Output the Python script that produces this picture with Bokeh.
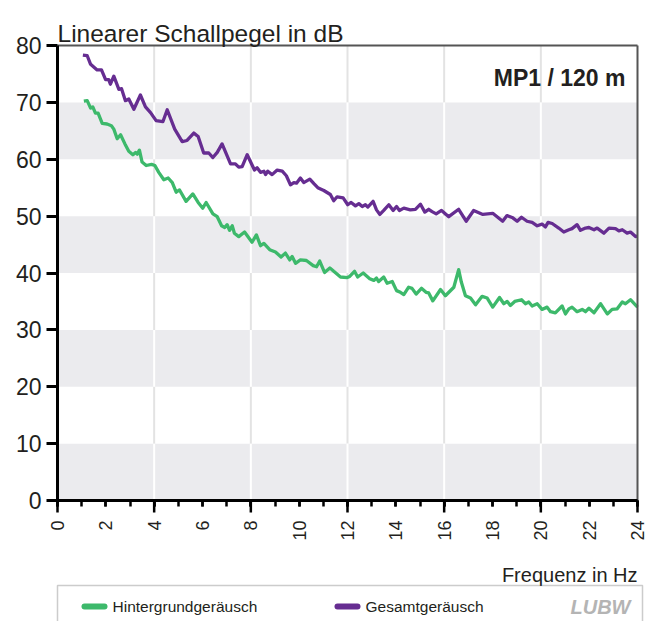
import math
from bokeh.plotting import figure
from bokeh.models import Range1d, FixedTicker, BoxAnnotation, Label, Arrow
from bokeh.embed import file_html
from bokeh.resources import INLINE

# ---------------- data ----------------
hg_freq = [1.09, 1.23, 1.37, 1.46, 1.57, 1.68, 1.85, 2.05, 2.23, 2.33, 2.47, 2.61, 2.79, 2.95,
           3.12, 3.23, 3.30, 3.39, 3.50, 3.67, 3.89, 4.03, 4.19, 4.40, 4.58, 4.75, 4.91, 5.05,
           5.32, 5.60, 5.82, 6.01, 6.15, 6.43, 6.61, 6.79, 6.92, 7.02, 7.12, 7.23, 7.32, 7.50,
           7.74, 8.05, 8.23, 8.40, 8.54, 8.78, 9.02, 9.25, 9.43, 9.61, 9.71, 9.85, 10.05, 10.30,
           10.58, 10.72, 10.85, 11.05, 11.27, 11.43, 11.71, 11.99, 12.09, 12.29, 12.42, 12.65,
           12.92, 13.09, 13.20, 13.29, 13.50, 13.64, 13.85, 14.03, 14.19, 14.33, 14.53, 14.67,
           14.84, 15.06, 15.25, 15.36, 15.53, 15.85, 16.05, 16.40, 16.60, 16.71, 16.88, 17.09,
           17.30, 17.57, 17.78, 18.01, 18.29, 18.47, 18.61, 18.74, 18.92, 19.20, 19.36, 19.50,
           19.64, 19.85, 20.05, 20.26, 20.40, 20.60, 20.88, 21.02, 21.16, 21.29, 21.50, 21.71,
           21.85, 21.99, 22.20, 22.47, 22.75, 22.95, 23.16, 23.37, 23.50, 23.71, 24.00]
hg_db = [70.2, 70.3, 69.0, 69.2, 68.1, 68.1, 66.3, 66.2, 65.9, 65.3, 63.6, 64.3, 62.7, 61.4,
         60.8, 61.2, 60.9, 61.6, 59.5, 58.9, 59.1, 58.9, 57.7, 56.4, 56.7, 55.9, 54.2, 54.6,
         52.6, 53.9, 52.4, 51.4, 52.4, 50.4, 49.9, 48.3, 48.0, 48.5, 47.5, 48.3, 47.0, 46.4,
         47.2, 45.4, 46.7, 44.8, 45.2, 44.1, 43.7, 42.8, 43.5, 42.3, 42.9, 41.7, 42.3, 42.2,
         41.3, 41.1, 42.1, 40.1, 40.9, 40.3, 39.3, 39.2, 39.4, 40.3, 39.3, 40.0,
         39.0, 38.7, 39.1, 38.5, 39.3, 38.2, 38.5, 36.9, 36.6, 36.2, 37.5, 37.3,
         36.3, 37.3, 36.6, 36.5, 35.1, 37.1, 36.0, 37.5, 40.6, 38.4, 36.0, 35.6,
         34.4, 35.9, 35.6, 34.0, 35.7, 34.6, 35.0, 34.3, 35.0, 35.3, 34.6, 34.9,
         34.2, 34.6, 33.6, 34.0, 33.2, 33.0, 34.2, 32.8, 33.7, 34.0, 33.2, 33.6,
         33.2, 33.8, 33.0, 34.6, 32.8, 33.6, 33.7, 34.9, 34.6, 35.3, 34.0]

gs_freq = [1.05, 1.23, 1.37, 1.64, 1.82, 1.99, 2.12, 2.19, 2.33, 2.54, 2.65, 2.81, 2.95, 3.16,
           3.43, 3.64, 3.85, 4.08, 4.36, 4.54, 4.85, 5.16, 5.36, 5.64, 5.82, 6.05, 6.26, 6.43,
           6.61, 6.81, 7.16, 7.36, 7.50, 7.64, 7.85, 8.15, 8.26, 8.40, 8.54, 8.61, 8.70, 8.88,
           9.09, 9.30, 9.47, 9.64, 9.78, 9.89, 10.05, 10.19, 10.44, 10.61, 10.77, 11.02, 11.29,
           11.43, 11.57, 11.82, 12.01, 12.15, 12.33, 12.47, 12.61, 12.74, 12.84, 13.06, 13.20,
           13.34, 13.50, 13.71, 13.89, 14.03, 14.15, 14.33, 14.60, 14.81, 15.02, 15.20, 15.36,
           15.50, 15.67, 15.89, 16.19, 16.60, 16.91, 17.22, 17.60, 18.01, 18.42, 18.60, 18.84,
           19.02, 19.20, 19.43, 19.64, 19.85, 20.05, 20.19, 20.30, 20.47, 20.74, 20.95, 21.16,
           21.29, 21.50, 21.64, 21.85, 21.99, 22.20, 22.33, 22.61, 22.82, 23.09, 23.23, 23.37,
           23.57, 23.71, 23.92, 24.00]
gs_db = [78.3, 78.2, 76.7, 75.7, 75.7, 74.0, 74.0, 73.2, 74.6, 72.3, 72.4, 70.3, 70.6, 68.8,
         71.3, 69.2, 68.2, 66.8, 66.6, 68.7, 65.3, 63.1, 63.3, 64.6, 64.0, 61.1, 61.1, 60.3,
         61.2, 62.7, 59.2, 59.2, 58.6, 58.7, 60.8, 58.1, 58.5, 57.7, 57.9, 57.3, 57.9, 57.3,
         58.1, 57.9, 57.1, 55.5, 55.9, 55.8, 56.7, 55.9, 56.5, 55.7, 55.0, 54.5, 53.8,
         52.7, 53.4, 53.2, 52.0, 52.4, 51.8, 52.2, 51.7, 52.0, 51.6, 52.6, 51.1,
         50.3, 51.0, 52.0, 51.0, 51.7, 51.0, 51.4, 51.1, 51.2, 52.1, 50.7, 51.2,
         50.8, 50.4, 51.0, 49.9, 51.2, 49.1, 51.0, 50.3, 50.5, 49.1, 50.1, 49.7,
         49.1, 49.8, 49.1, 48.9, 48.3, 48.6, 48.1, 48.9, 48.7, 47.9, 47.2, 47.6,
         47.8, 48.5, 47.5, 47.9, 48.0, 47.6, 47.9, 47.0, 47.9, 47.8, 47.4, 47.6,
         47.0, 47.2, 46.4, 46.5]

X_MIN, X_MAX = 0, 24
Y_MIN, Y_MAX = 0, 80
x_ticks = list(range(0, 25, 2))
x_minor = list(range(0, 25, 1))
x_long_ticks = [0, 4, 8, 12, 16, 20, 24]
x_grid = [4, 8, 12, 16, 20]
y_ticks = list(range(0, 81, 10))
gray_bands = [(0, 10), (20, 30), (40, 50), (60, 70)]
white_bands = [(10, 20), (30, 40), (50, 60), (70, 80)]

title_text = "Linearer Schallpegel in dB"
xlabel_text = "Frequenz in Hz"
tag_text = "MP1 / 120 m"
series_names = ["Hintergrundgeräusch", "Gesamtgeräusch"]
logo_text = "LUBW"

GREEN = "#3db96b"
PURPLE = "#662d91"
FONT = "Liberation Sans"
TXT = "#231f20"

# ---------------- geometry (pixels) ----------------
W, H = 654, 621
LEFT_PX = 57                     # x = 0 Hz
PX_PER_HZ = 580 / 24.0           # 0..24 Hz over 580 px
PX_PER_DB = 455 / 80.0           # 0..80 dB over 455 px
TOP_PX = 45                      # y = 80 dB
BOTTOM_PX = 500                  # y = 0 dB

x_start = X_MIN - LEFT_PX / PX_PER_HZ
x_end = X_MIN + (W - LEFT_PX) / PX_PER_HZ
y_top = Y_MAX + TOP_PX / PX_PER_DB
y_bot = Y_MIN - (H - BOTTOM_PX) / PX_PER_DB

def dy(px_below_zero):
    return Y_MIN - px_below_zero / PX_PER_DB

def dx(px_right_of_zero):
    return X_MIN + px_right_of_zero / PX_PER_HZ

p = figure(width=W, height=H, output_backend="svg", toolbar_location=None,
           x_range=Range1d(x_start, x_end), y_range=Range1d(y_bot, y_top),
           min_border_left=0, min_border_right=0, min_border_top=0, min_border_bottom=0)
p.background_fill_color = "white"
p.border_fill_color = "white"
p.outline_line_color = None
p.xgrid.grid_line_color = None
p.ygrid.grid_line_color = None

# axes (placed at the data origin)
ya = p.yaxis[0]
ya.fixed_location = X_MIN
ya.bounds = (Y_MIN, Y_MAX)
ya.ticker = FixedTicker(ticks=y_ticks)
ya.axis_line_width = 3
ya.axis_line_color = "black"
ya.major_tick_line_width = 3
ya.major_tick_line_color = "black"
ya.major_tick_out = 11
ya.major_tick_in = 0
ya.minor_tick_line_color = None
ya.major_label_standoff = 5
ya.major_label_text_font = FONT
ya.major_label_text_font_size = "23px"
ya.major_label_text_color = TXT

xa = p.xaxis[0]
xa.fixed_location = Y_MIN
xa.bounds = (X_MIN, X_MAX)
xa.ticker = FixedTicker(ticks=x_ticks, minor_ticks=x_minor)
xa.axis_line_width = 3
xa.axis_line_color = "black"
xa.major_tick_line_width = 2.5
xa.minor_tick_line_width = 2.5
xa.major_tick_line_color = "black"
xa.minor_tick_line_color = "black"
xa.major_tick_out = 6
xa.major_tick_in = 0
xa.minor_tick_out = 6
xa.minor_tick_in = 0
xa.major_label_orientation = math.pi / 2
xa.major_label_standoff = 14
xa.major_label_text_font = FONT
xa.major_label_text_font_size = "18px"
xa.major_label_text_color = TXT

# background bands and vertical grid lines
for lo, hi in gray_bands:
    p.add_layout(BoxAnnotation(left=X_MIN, right=X_MAX, bottom=lo, top=hi,
                               fill_color="#ebebee", fill_alpha=1,
                               line_color=None, level="underlay"))
for bands, col in [(white_bands, "#e3e3e3"), (gray_bands, "white")]:
    sx, sy0, sy1 = [], [], []
    for lo, hi in bands:
        for g in x_grid:
            sx.append(g); sy0.append(lo); sy1.append(hi)
    p.segment(x0=sx, y0=sy0, x1=sx, y1=sy1, line_color=col, line_width=2)

# curves
p.line(hg_freq, hg_db, line_width=3.3, line_color=GREEN, line_join="round")
p.line(gs_freq, gs_db, line_width=3.3, line_color=PURPLE, line_join="round")

# frame top/right border
p.segment(x0=[X_MIN, X_MAX], y0=[Y_MAX, Y_MIN], x1=[X_MAX, X_MAX], y1=[Y_MAX, Y_MAX],
          line_color="#555555", line_width=2)

# long ticks at every 4 Hz
for t in x_long_ticks:
    p.add_layout(Arrow(end=None, x_start=t, y_start=Y_MIN, x_end=t, y_end=dy(12),
                       line_width=2.5, line_color="black"))

# texts
p.add_layout(Label(x=X_MIN, y=Y_MAX + 12 / PX_PER_DB, text=title_text, text_font=FONT,
                   text_font_size="24.5px", text_color=TXT, text_baseline="alphabetic"))
p.add_layout(Label(x=23.5, y=Y_MAX - 32 / PX_PER_DB, text=tag_text, text_font=FONT,
                   text_font_size="23px", text_font_style="bold", text_color=TXT,
                   text_align="right", text_baseline="alphabetic"))
p.add_layout(Label(x=X_MAX, y=dy(74), text=xlabel_text, text_font=FONT,
                   text_font_size="20px", text_color=TXT, text_align="right",
                   text_baseline="alphabetic"))

# legend box (cut off at the bottom like the reference)
p.add_layout(BoxAnnotation(left=dx(0), right=dx(585), top=dy(85), bottom=dy(200),
                           fill_color=None, line_color="#555555", line_width=1.5))
leg_y = dy(106)
for name, col, gx in [(series_names[0], GREEN, 27), (series_names[1], PURPLE, 280)]:
    p.add_layout(Arrow(end=None, x_start=dx(gx), y_start=leg_y,
                       x_end=dx(gx + 20), y_end=leg_y,
                       line_width=6, line_color=col, line_cap="round"))
    p.add_layout(Label(x=dx(gx + 28), y=leg_y, text=name,
                       text_font=FONT, text_font_size="15.5px", text_color=TXT,
                       text_baseline="middle"))
p.add_layout(Label(x=dx(573), y=dy(106), text=logo_text,
                   text_font=FONT, text_font_size="20px",
                   text_font_style="bold italic", text_color="#b4b4b4",
                   text_align="right", text_baseline="middle"))

open("out.html", "w").write(file_html(p, INLINE))
